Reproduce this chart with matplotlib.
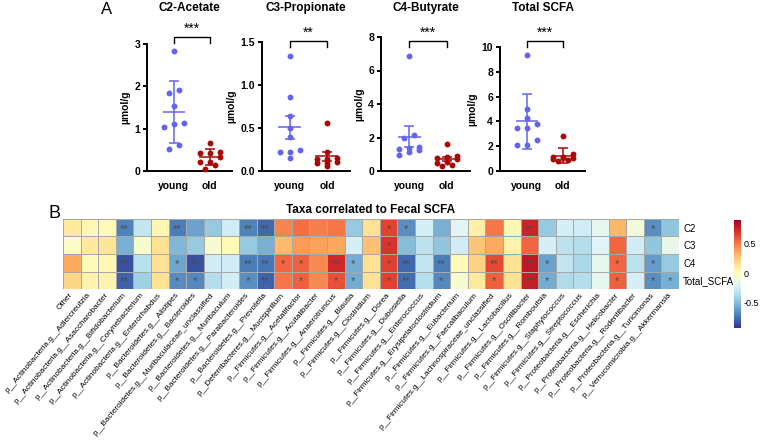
import numpy as np
import matplotlib
matplotlib.use('Agg')
import matplotlib.pyplot as plt
from matplotlib import transforms

plt.rcParams['font.family'] = ['Liberation Sans', 'DejaVu Sans']

# ---- panel A: SCFA concentrations (umol/g) ----
panels = ['C2-Acetate', 'C3-Propionate', 'C4-Butyrate', 'Total SCFA']
groups = ['young', 'old']
acetate_young = [2.84, 1.91, 1.84, 1.54, 1.14, 1.12, 1.05, 0.62, 0.51]
acetate_old = [0.67, 0.45, 0.43, 0.42, 0.33, 0.22, 0.21, 0.15, 0.05]
propionate_young = [1.34, 0.86, 0.64, 0.50, 0.39, 0.24, 0.22, 0.22, 0.15]
propionate_old = [0.56, 0.22, 0.15, 0.14, 0.14, 0.10, 0.09, 0.09, 0.06]
butyrate_young = [6.85, 2.15, 1.95, 1.42, 1.38, 1.32, 1.28, 1.15, 0.98]
butyrate_old = [1.60, 0.92, 0.85, 0.78, 0.72, 0.55, 0.45, 0.35, 0.28]
total_young = [9.32, 5.00, 4.27, 3.78, 3.49, 3.43, 2.49, 2.08, 2.08]
total_old = [2.80, 1.35, 1.15, 1.12, 1.08, 1.02, 0.98, 0.92, 0.78]
error_kind = ['sd', 'sem', 'sem', 'sd']
sig_marks = ['***', '**', '***', '***']
y_max = [3, 1.5, 8, 10]
y_ticks = [[0, 1, 2, 3], [0, 0.5, 1.0, 1.5], [0, 2, 4, 6, 8], [0, 2, 4, 6, 8, 10]]
y_ticklabels = [['0', '1', '2', '3'], ['0.0', '0.5', '1.0', '1.5'],
                ['0', '2', '4', '6', '8'], ['0', '2', '4', '6', '8', '10']]

# ---- panel B: correlation of taxa with fecal SCFA ----
taxa = ['Other',
        'p__Actinobacteria.g__Adlercreutzia',
        'p__Actinobacteria.g__Asaccharobacter',
        'p__Actinobacteria.g__Bifidobacterium',
        'p__Actinobacteria.g__Corynebacterium',
        'p__Actinobacteria.g__Enterorhabdus',
        'p__Bacteroidetes.g__Alistipes',
        'p__Bacteroidetes.g__Bacteroides',
        'p__Bacteroidetes.g__Muribaculaceae_unclassified',
        'p__Bacteroidetes.g__Muribaculum',
        'p__Bacteroidetes.g__Parabacteroides',
        'p__Bacteroidetes.g__Prevotella',
        'p__Deferribacteres.g__Mucispirillum',
        'p__Firmicutes.g__Acetatifactor',
        'p__Firmicutes.g__Acutalibacter',
        'p__Firmicutes.g__Anaerotruncus',
        'p__Firmicutes.g__Blautia',
        'p__Firmicutes.g__Clostridium',
        'p__Firmicutes.g__Dorea',
        'p__Firmicutes.g__Dubosiella',
        'p__Firmicutes.g__Enterococcus',
        'p__Firmicutes.g__Erysipelatoclostridium',
        'p__Firmicutes.g__Eubacterium',
        'p__Firmicutes.g__Faecalibaculum',
        'p__Firmicutes.g__Lachnospiraceae_unclassified',
        'p__Firmicutes.g__Lactobacillus',
        'p__Firmicutes.g__Oscillibacter',
        'p__Firmicutes.g__Romboutsia',
        'p__Firmicutes.g__Staphylococcus',
        'p__Firmicutes.g__Streptococcus',
        'p__Proteobacteria.g__Escherichia',
        'p__Proteobacteria.g__Helicobacter',
        'p__Proteobacteria.g__Rodentibacter',
        'p__Proteobacteria.g__Turicimonas',
        'p__Verrucomicrobia.g__Akkermansia']
scfa_rows = ['C2', 'C3', 'C4', 'Total_SCFA']
c2_r = [0.12, 0.03, 0.02, -0.70, -0.30, 0.04, -0.72, -0.60, -0.45, -0.25, -0.70, -0.78,
        0.47, 0.53, 0.48, 0.50, -0.45, 0.15, 0.66, -0.66, -0.23, -0.55, -0.18, 0.08,
        0.50, 0.04, 0.76, -0.45, -0.23, -0.25, -0.16, 0.32, -0.10, -0.66, -0.46]
c3_r = [-0.05, 0.12, 0.14, -0.55, -0.06, 0.15, -0.52, -0.45, -0.07, 0.02, -0.45, -0.55,
        0.30, 0.40, 0.38, 0.37, -0.23, 0.28, 0.70, -0.50, -0.32, -0.46, -0.25, 0.27,
        0.36, 0.06, 0.55, -0.23, -0.32, -0.35, -0.20, 0.55, -0.25, -0.46, -0.15]
c4_r = [0.36, 0.02, 0.03, -0.85, -0.33, 0.15, -0.58, -0.85, -0.25, -0.25, -0.72, -0.74,
        0.55, 0.57, 0.45, 0.74, -0.56, 0.16, 0.66, -0.78, -0.30, -0.72, 0.02, 0.22,
        0.64, 0.15, 0.80, -0.60, -0.30, -0.38, -0.16, 0.55, -0.32, -0.62, -0.45]
total_r = [0.20, 0.05, 0.06, -0.80, -0.42, 0.15, -0.67, -0.68, -0.35, -0.24, -0.66, -0.80,
           0.50, 0.57, 0.45, 0.62, -0.56, 0.15, 0.66, -0.76, -0.34, -0.68, -0.06, 0.12,
           0.57, 0.15, 0.78, -0.56, -0.36, -0.35, -0.16, 0.57, -0.23, -0.66, -0.55]
c2_sig = ['', '', '', '**', '', '', '**', '', '', '', '**', '**',
          '', '', '', '', '', '', '*', '*', '', '', '', '',
          '', '', '**', '', '', '', '', '', '', '*', '']
c3_sig = ['', '', '', '', '', '', '', '', '', '', '', '',
          '', '', '', '', '', '', '*', '', '', '', '', '',
          '', '', '', '', '', '', '', '', '', '', '']
c4_sig = ['', '', '', '**', '', '', '*', '**', '', '', '**', '**',
          '*', '*', '', '**', '*', '', '*', '**', '', '**', '', '',
          '**', '', '**', '*', '', '', '', '*', '', '*', '']
total_sig = ['', '', '', '**', '', '', '*', '*', '', '', '*', '**',
             '', '*', '', '*', '*', '', '*', '**', '', '*', '', '',
             '*', '', '**', '*', '', '', '', '*', '', '*', '*']

W, H = 760, 447
fig = plt.figure(figsize=(W / 100, H / 100), dpi=100)


def px_rect(x0, y0, x1, y1):
    return [x0 / W, 1 - y1 / H, (x1 - x0) / W, (y1 - y0) / H]


def swarm_x(ax, values, center, gap_px=10, row_px=6, per_row=3):
    # points that sit close together vertically are spread sideways
    y_scale = ax.bbox.height / np.diff(ax.get_ylim())[0]
    x_scale = ax.bbox.width / np.diff(ax.get_xlim())[0]
    xs = np.zeros(len(values))
    rows = []
    for k in np.argsort(values)[::-1]:
        if rows and len(rows[-1]) < per_row and (values[rows[-1][0]] - values[k]) * y_scale < row_px:
            rows[-1].append(k)
        else:
            rows.append([k])
    for row in rows:
        row = sorted(row, key=lambda k: values[k])
        n = len(row)
        for j, k in enumerate(row):
            xs[k] = center + (j - (n - 1) / 2) * gap_px / x_scale
    return xs


# panel boxes in pixels
a_left = [147, 262, 381, 500]
a_right = [232, 350, 470, 585]
a_top = [44, 42, 37, 47]
a_bottom = 171
bracket_y = [37, 41, 41, 41]
colors = ['#6464F0', '#A80808']
young_sets = [acetate_young, propionate_young, butyrate_young, total_young]
old_sets = [acetate_old, propionate_old, butyrate_old, total_old]

for i, name in enumerate(panels):
    ax = fig.add_axes(px_rect(a_left[i], a_top[i], a_right[i], a_bottom))
    ax.set_xlim(-0.75, 1.62)
    ax.set_ylim(0, y_max[i])
    for g, vals in enumerate([young_sets[i], old_sets[i]]):
        vals = np.array(vals)
        xs = swarm_x(ax, vals, g)
        ax.scatter(xs, vals, s=18, color=colors[g], linewidths=0, zorder=3, clip_on=False)
        m = vals.mean()
        err = vals.std(ddof=1)
        if error_kind[i] == 'sem':
            err = err / np.sqrt(len(vals))
        ax.errorbar(g, m, yerr=err, fmt='none', ecolor=colors[g], capsize=3.6,
                    elinewidth=1.1, capthick=1.1, zorder=4)
        ax.hlines(m, g - 0.31, g + 0.31, color=colors[g], lw=1.1, zorder=4)
    for side in ['top', 'right']:
        ax.spines[side].set_visible(False)
    for side in ['left', 'bottom']:
        ax.spines[side].set_linewidth(1.4)
    ax.set_yticks(y_ticks[i])
    ax.set_yticklabels(y_ticklabels[i], fontweight='bold', fontsize=7.5)
    ax.set_xticks([0, 1])
    ax.set_xticklabels(groups, fontweight='bold', fontsize=7.5)
    ax.tick_params(axis='y', length=3, width=1.4, pad=2)
    ax.tick_params(axis='x', length=0, pad=7)
    ax.set_ylabel('µmol/g', fontweight='bold', fontsize=7.5, labelpad=3)
    # significance bracket
    tr = transforms.blended_transform_factory(ax.transData, fig.transFigure)
    yb = 1 - bracket_y[i] / H
    yl = 1 - (bracket_y[i] + 6) / H
    ax.plot([0, 0, 1, 1], [yl, yb, yb, yl], color='black', lw=1, transform=tr, clip_on=False)
    ax.text(0.5, 1 - (bracket_y[i] - 8) / H, sig_marks[i], ha='center', va='center',
            fontsize=10, transform=tr)
    fig.text((a_left[i] + a_right[i]) / 2 / W, 1 - 8 / H, name, ha='center', va='center',
             fontsize=8.5, fontweight='bold')

fig.text(107 / W, 1 - 9 / H, 'A', ha='center', va='center', fontsize=12)
fig.text(55 / W, 1 - 213 / H, 'B', ha='center', va='center', fontsize=13)

# heatmap
corr = np.array([c2_r, c3_r, c4_r, total_r])
stars = [c2_sig, c3_sig, c4_sig, total_sig]
hm = fig.add_axes(px_rect(63, 219, 679, 289))
mesh = hm.pcolormesh(corr, cmap='RdYlBu_r', vmin=-0.93, vmax=0.90,
                     edgecolors='#a8a8a8', linewidth=0.6)
hm.set_xlim(0, len(taxa))
hm.set_ylim(len(scfa_rows), 0)
for r, row in enumerate(stars):
    for c, s in enumerate(row):
        if s:
            hm.text(c + 0.5, r + 0.55, s, ha='center', va='center', fontsize=8, color='#4a4a4a')
for side in hm.spines.values():
    side.set_visible(False)
hm.set_xticks(np.arange(len(taxa)) + 0.5)
hm.set_xticklabels(taxa, rotation=50, ha='right', va='center', rotation_mode='anchor', fontsize=5.9)
hm.yaxis.tick_right()
hm.set_yticks(np.arange(len(scfa_rows)) + 0.5)
hm.set_yticklabels(scfa_rows, fontsize=7)
hm.tick_params(axis='x', length=0, pad=3.5)
hm.tick_params(axis='y', length=0, pad=3)
fig.text(371 / W, 1 - 210 / H, 'Taxa correlated to Fecal SCFA', ha='center', va='center',
         fontsize=8.5, fontweight='bold')

cax = fig.add_axes(px_rect(734, 220, 741, 328))
cb = fig.colorbar(mesh, cax=cax, ticks=[-0.5, 0, 0.5])
cb.outline.set_visible(False)
cb.ax.set_yticklabels(['-0.5', '0', '0.5'])
cb.ax.tick_params(length=0, labelsize=6.5, pad=2)

fig.savefig('out.png', dpi=100)
